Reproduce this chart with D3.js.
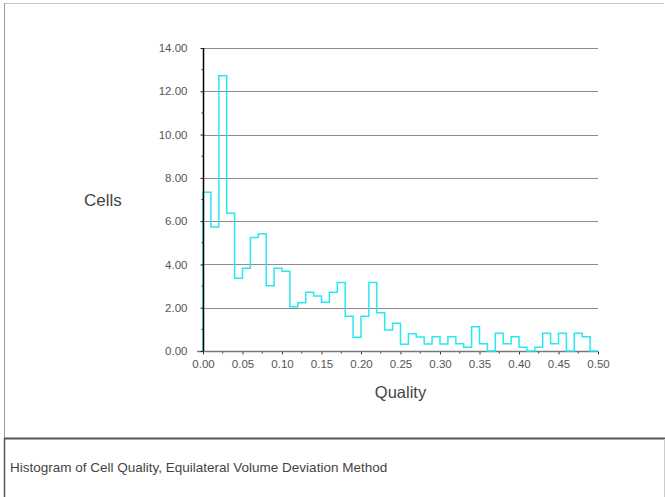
<!DOCTYPE html>
<html>
<head>
<meta charset="utf-8">
<script src="https://cdn.jsdelivr.net/npm/d3@7"></script>
<style>
  body { margin: 0; background: #fff; }
  svg { display: block; font-family: 'Liberation Sans', Arial, sans-serif; }
</style>
</head>
<body>
<svg id="chart" width="665" height="497"></svg>
<script>
// histogram of cell quality, bin width 0.01
const binWidth = 0.01;
const cellCounts = [
  7.33, 5.73, 12.72, 6.36, 3.36, 3.82, 5.25, 5.42, 3.02, 3.82,
  3.68, 2.05, 2.23, 2.71, 2.54, 2.25, 2.71, 3.17, 1.60, 0.63,
  1.60, 3.17, 1.77, 0.97, 1.28, 0.31, 0.80, 0.65, 0.32, 0.66,
  0.32, 0.66, 0.33, 0.17, 1.12, 0.33, 0.00, 0.82, 0.33, 0.66,
  0.17, 0.00, 0.17, 0.82, 0.33, 0.82, 0.00, 0.82, 0.66, 0.00
];
const xTicks = [0, 0.05, 0.1, 0.15, 0.2, 0.25, 0.3, 0.35, 0.4, 0.45, 0.5];
const yTicks = [0, 2, 4, 6, 8, 10, 12, 14];
const caption = 'Histogram of Cell Quality, Equilateral Volume Deviation Method';

const width = 665;
const height = 497;
const margin = {top: 48, right: 67, bottom: 146, left: 203};

const svg = d3.select('#chart');

// outer frame
svg.append('line').attr('x1', 4).attr('x2', 664).attr('y1', 3.5).attr('y2', 3.5)
  .attr('stroke', '#c8c8c8').attr('stroke-width', 1);
svg.append('line').attr('x1', 4.5).attr('x2', 4.5).attr('y1', 3).attr('y2', 438)
  .attr('stroke', '#999').attr('stroke-width', 1);

// caption panel
svg.append('line').attr('x1', 4).attr('x2', 665).attr('y1', 438.5).attr('y2', 438.5)
  .attr('stroke', '#555').attr('stroke-width', 2);
svg.append('line').attr('x1', 4.5).attr('x2', 4.5).attr('y1', 438).attr('y2', 497)
  .attr('stroke', '#555').attr('stroke-width', 1.5);
svg.append('line').attr('x1', 664.5).attr('x2', 664.5).attr('y1', 439).attr('y2', 497)
  .attr('stroke', '#ccc').attr('stroke-width', 1);
svg.append('text')
  .attr('x', 10).attr('y', 472)
  .attr('font-size', 13.5).attr('fill', '#444')
  .text(caption);

const x = d3.scaleLinear()
  .domain([0, 0.5])
  .range([margin.left, width - margin.right]);

const y = d3.scaleLinear()
  .domain([0, 14])
  .range([height - margin.bottom, margin.top]);

// horizontal grid
svg.append('g')
  .selectAll('line')
  .data(yTicks.filter(d => d > 0))
  .join('line')
  .attr('x1', x(0)).attr('x2', x(0.5))
  .attr('y1', d => Math.round(y(d)) + 0.5).attr('y2', d => Math.round(y(d)) + 0.5)
  .attr('stroke', '#8c8c8c').attr('stroke-width', 1.2);

// x axis
const xAxis = g => g
  .attr('transform', `translate(0,${Math.round(y(0)) + 0.5})`)
  .call(d3.axisBottom(x).tickValues(xTicks).tickSize(3).tickPadding(5).tickFormat(d3.format('.2f')))
  .call(g => g.select('.domain').remove())
  .call(g => g.selectAll('.tick line').attr('stroke', '#333'))
  .call(g => g.selectAll('.tick text').attr('fill', '#555').attr('font-size', 11.5))
  .call(g => g.append('g')
    .selectAll('line')
    .data(d3.range(0.025, 0.5, 0.05))
    .join('line')
    .attr('x1', d => x(d)).attr('x2', d => x(d))
    .attr('y1', 0).attr('y2', 2)
    .attr('stroke', '#333'))
  .call(g => g.append('line')
    .attr('x1', x(0) - 6).attr('x2', x(0.5))
    .attr('stroke', '#777').attr('stroke-width', 1.5));

svg.append('g').call(xAxis).attr('font-family', null);

// histogram step outline
const pts = [[0, 0]];
cellCounts.forEach((v, i) => {
  pts.push([i * binWidth, v]);
  pts.push([(i + 1) * binWidth, v]);
});
pts.push([cellCounts.length * binWidth, 0]);

svg.append('path')
  .datum(pts)
  .attr('fill', 'none')
  .attr('stroke', '#2ae8f2')
  .attr('stroke-width', 1.5)
  .attr('d', d3.line().x(d => x(d[0])).y(d => y(d[1])));

// y axis (drawn above the histogram)
const yAxis = g => g
  .attr('transform', `translate(${Math.round(x(0)) + 0.5},0)`)
  .call(d3.axisLeft(y).tickValues(yTicks).tickSize(3).tickPadding(13).tickFormat(d3.format('.2f')))
  .call(g => g.select('.domain').remove())
  .call(g => g.selectAll('.tick line').attr('stroke', '#222'))
  .call(g => g.selectAll('.tick text').attr('fill', '#555').attr('font-size', 11.5))
  .call(g => g.append('g')
    .selectAll('line')
    .data(d3.range(1, 14, 2))
    .join('line')
    .attr('x1', -2).attr('x2', 0)
    .attr('y1', d => y(d)).attr('y2', d => y(d))
    .attr('stroke', '#333'))
  .call(g => g.append('line')
    .attr('y1', y(14)).attr('y2', y(0))
    .attr('stroke', '#000').attr('stroke-width', 1.5));

svg.append('g').call(yAxis).attr('font-family', null);

// axis titles
svg.append('text')
  .attr('x', 84).attr('y', 206)
  .attr('font-size', 17).attr('fill', '#444')
  .text('Cells');

svg.append('text')
  .attr('x', x(0.25)).attr('y', 398)
  .attr('text-anchor', 'middle')
  .attr('font-size', 16.5).attr('fill', '#444')
  .text('Quality');
</script>
</body>
</html>
